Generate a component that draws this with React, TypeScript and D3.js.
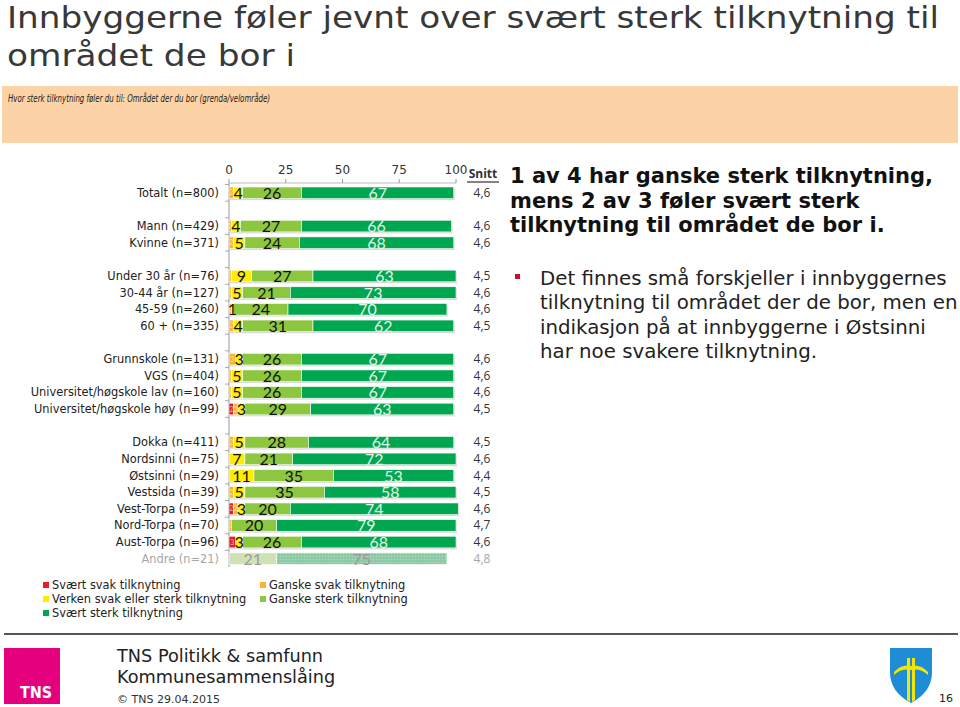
import React from "react";
import * as d3 from "d3";

const categories = [
  "Totalt (n=800)",
  "Mann (n=429)", "Kvinne (n=371)",
  "Under 30 år (n=76)", "30-44 år (n=127)", "45-59 (n=260)", "60 + (n=335)",
  "Grunnskole (n=131)", "VGS (n=404)", "Universitet/høgskole lav (n=160)", "Universitet/høgskole høy (n=99)",
  "Dokka (n=411)", "Nordsinni (n=75)", "Østsinni (n=29)", "Vestsida (n=39)", "Vest-Torpa (n=59)",
  "Nord-Torpa (n=70)", "Aust-Torpa (n=96)", "Andre (n=21)",
];
const groupSizes = [1, 2, 4, 4, 8];
const svaertSvak = [0, 0, 0, 0, 0, 0, 0, 0, 0, 0, 2, 0, 0, 0, 0, 2, 0, 3, 0];
const ganskeSvak = [2, 1, 2, 1, 1, 1, 2, 3, 1, 1, 2, 2, 0, 0, 2, 2, 1, 0, 0];
const verken = [4, 4, 5, 9, 5, 1, 4, 3, 5, 5, 3, 5, 7, 11, 5, 3, 0, 3, 0];
const ganskeSterk = [26, 27, 24, 27, 21, 24, 31, 26, 26, 26, 29, 28, 21, 35, 35, 20, 20, 26, 21];
const svaertSterk = [67, 66, 68, 63, 73, 70, 62, 67, 67, 67, 63, 64, 72, 53, 58, 74, 79, 68, 75];
const snitt = ["4,6", "4,6", "4,6", "4,5", "4,6", "4,6", "4,5", "4,6", "4,6", "4,6", "4,5", "4,5", "4,6", "4,4", "4,5", "4,6", "4,7", "4,6", "4,8"];
const faded = ["Andre (n=21)"];
const xTicks = [0, 25, 50, 75, 100];
const seriesNames = [
  "Svært svak tilknytning",
  "Ganske svak tilknytning",
  "Verken svak eller sterk tilknytning",
  "Ganske sterk tilknytning",
  "Svært sterk tilknytning",
];
const seriesColors = ["#e31e24", "#f9b233", "#ffed00", "#8dc63f", "#00a650"];
const seriesColorsFaded = ["#f3b5b5", "#fde3b0", "#fff8a8", "#cfe2b6", "url(#dots)"];

const titleLines = ["Innbyggerne føler jevnt over svært sterk tilknytning til", "området de bor i"];
const subtitle = "Hvor sterk tilknytning føler du til: Området der du bor (grenda/velområde)";
const headline = ["1 av 4 har ganske sterk tilknytning,", "mens 2 av 3 føler svært sterk", "tilknytning til området de bor i."];
const bulletLines = [
  "Det finnes små forskjeller i innbyggernes",
  "tilknytning til området der de bor, men en",
  "indikasjon på at innbyggerne i Østsinni",
  "har noe svakere tilknytning.",
];

export default function App() {
  const W = 960, H = 707;
  const slots: string[] = [];
  let ci = 0;
  groupSizes.forEach((g, gi) => {
    if (gi > 0) slots.push(`gap${gi}`);
    for (let k = 0; k < g; k++) slots.push(categories[ci++]);
  });
  const y = d3.scaleBand<string>().domain(slots).range([184.5, 567]).paddingInner(0.3).paddingOuter(0.15);
  const x = d3.scaleLinear().domain([0, 100]).range([229, 456]);
  const series = [svaertSvak, ganskeSvak, verken, ganskeSterk, svaertSterk];
  const rows = categories.map((c, i) => {
    const vals = series.map((s) => s[i]);
    let acc = 0;
    const segs = vals.map((v, si) => {
      const s = { si, v, x0: acc, x1: acc + v };
      acc += v;
      return s;
    });
    return { c, i, segs, faded: faded.includes(c) };
  });
  const bw = y.bandwidth();
  const font = "'DejaVu Sans', Verdana, sans-serif";
  const numFont = "Lato, 'Open Sans', sans-serif";
  const condensed = "'DejaVu Sans Condensed', 'DejaVu Sans', sans-serif";
  return (
    <svg width={W} height={H} style={{ position: "absolute", left: 0, top: 0, background: "#fff" }}>
      <defs>
        <pattern id="dots" width="3" height="3" patternUnits="userSpaceOnUse">
          <rect width="3" height="3" fill="#8fcaa6" />
          <circle cx="1.5" cy="1.5" r="0.6" fill="#b9dfc6" />
        </pattern>
      </defs>
      {/* Title */}
      <g fill="#383838" fontFamily={condensed} fontSize={31} style={{ fontStretch: "condensed" }}>
        <text x={7} y={28} textLength={932} lengthAdjust="spacingAndGlyphs">{titleLines[0]}</text>
        <text x={7} y={66} textLength={288} lengthAdjust="spacingAndGlyphs">{titleLines[1]}</text>
      </g>
      <rect x={2} y={86} width={956} height={57} fill="#fbd3a6" />
      <text x={8} y={102} fontSize={10.5} fontStyle="italic" fontFamily={condensed} fill="#222" textLength={262} lengthAdjust="spacingAndGlyphs">{subtitle}</text>

      {/* top axis */}
      <line x1={x(0)} x2={x(100)} y1={183} y2={183} stroke="#bbb" />
      {xTicks.map((t) => (
        <g key={t}>
          <line x1={x(t)} x2={x(t)} y1={179} y2={183} stroke="#999" />
          <text x={x(t)} y={174} textAnchor="middle" fontSize={12} fontFamily={font} fill="#333">{t}</text>
        </g>
      ))}
      <line x1={x(0)} x2={x(0)} y1={183} y2={567} stroke="#999" />
      {slots.map((s) => {
        const ty = (y(s) as number) - (y.step() * y.paddingInner()) / 2;
        return <line key={s} x1={x(0) - 4} x2={x(0)} y1={ty} y2={ty} stroke="#aaa" />;
      })}
      <text x={483} y={178} textAnchor="middle" fontSize={12} fontWeight="bold" fontFamily="'Open Sans', sans-serif" fill="#333">Snitt</text>
      <line x1={467} x2={499} y1={182} y2={182} stroke="#333" strokeWidth={1.2} />

      {rows.map((r) => {
        const yy = y(r.c) as number;
        const cy = yy + bw / 2;
        const total = r.segs[4].x1;
        return (
          <g key={r.c}>
            <text x={219} y={cy + 4} textAnchor="end" fontSize={11.4} fontFamily={font} fill={r.faded ? "#a6a6a6" : "#222"}>{r.c}</text>
            {!r.faded && <rect x={x(0) + 1} y={yy + 1.5} width={x(total) - x(0)} height={bw} fill="#000" opacity={0.15} />}
            {r.segs.filter((s) => s.v > 0).map((s) => (
              <rect key={s.si} x={x(s.x0)} y={yy} width={x(s.x1) - x(s.x0)} height={bw}
                fill={r.faded ? seriesColorsFaded[s.si] : seriesColors[s.si]} stroke="#fff" strokeWidth={0.6} />
            ))}
            {r.segs.filter((s) => s.v > 0).map((s) => {
              const mx = (x(s.x0) + x(s.x1)) / 2;
              if (s.si < 2) {
                return (
                  <text key={"l" + s.si} x={mx} y={cy + 2.5} textAnchor="middle" fontSize={7} fontFamily={numFont}
                    fill={s.si === 0 ? "#f7a8a8" : "#fde0a0"}>{s.v}</text>
                );
              }
              const col = r.faded ? "#9a9a9a" : s.si === 4 ? "#e2f5e8" : "#111";
              return (
                <text key={"l" + s.si} x={mx} y={cy + 6} textAnchor="middle" fontSize={16} fontFamily={numFont} fill={col}>{s.v}</text>
              );
            })}
            <text x={482} y={cy + 4} textAnchor="middle" fontSize={12} fontFamily="'Open Sans', sans-serif" fill={r.faded ? "#a6a6a6" : "#333"}>{snitt[r.i]}</text>
          </g>
        );
      })}

      {/* right side text */}
      <g fontFamily={font} fontWeight="bold" fontSize={21} fill="#111">
        {headline.map((t, i) => (
          <text key={i} x={510} y={183 + i * 24.5}>{t}</text>
        ))}
      </g>
      <rect x={515} y={274} width={5} height={5} fill="#c8102e" />
      <g fontFamily={font} fontSize={19.8} fill="#222">
        {bulletLines.map((t, i) => (
          <text key={i} x={540} y={285 + i * 24.3}>{t}</text>
        ))}
      </g>

      {/* legend */}
      {seriesNames.map((n, i) => {
        const order = [0, 2, 4, 1, 3];
        const pos = order.indexOf(i);
        const col = pos < 3 ? 0 : 1;
        const row = pos < 3 ? pos : pos - 3;
        const lx = col === 0 ? 43 : 260;
        const ly = 585 + row * 14;
        return (
          <g key={n}>
            <rect x={lx} y={ly - 3} width={6} height={6} fill={seriesColors[i]} />
            <text x={lx + 9} y={ly + 4} fontSize={11.4} fontFamily={font} fill="#222">{n}</text>
          </g>
        );
      })}

      {/* footer */}
      <line x1={4} x2={958} y1={634} y2={634} stroke="#555" strokeWidth={2} />
      <rect x={4} y={648} width={56} height={56} fill="#e5007d" />
      <text x={36} y={698} textAnchor="middle" fontSize={16} fontWeight="bold" fontFamily={condensed} fill="#fff">TNS</text>
      <text x={117} y={662} fontSize={17.7} fontFamily={font} fill="#222">TNS Politikk &amp; samfunn</text>
      <text x={117} y={683} fontSize={17.7} fontFamily={font} fill="#222">Kommunesammenslåing</text>
      <text x={117} y={703} fontSize={11} fontFamily={font} fill="#333">© TNS 29.04.2015</text>
      <text x={946} y={702} textAnchor="middle" fontSize={11} fontFamily={font} fill="#222">16</text>
      {/* coat of arms */}
      <path d="M890,648 L932,648 L932,672 Q932,692 911,703 Q890,692 890,672 Z" fill="#1f8dd6" />
      <path d="M907,658 L907,700 L910,702 L910,658 Z M912,658 L912,702 L915,700 L915,658 Z" fill="#f4e600" />
      <path d="M894,672 Q902,664 911,666 Q920,664 928,672 L928,675 Q920,668 911,670 Q902,668 894,675 Z" fill="#f4e600" />
    </svg>
  );
}
